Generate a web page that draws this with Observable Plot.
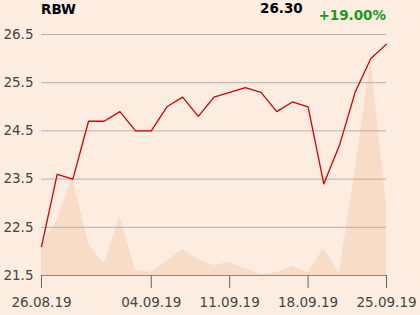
<!DOCTYPE html>
<html>
<head>
<meta charset="utf-8">
<script src="https://cdn.jsdelivr.net/npm/d3@7"></script>
<script src="https://cdn.jsdelivr.net/npm/@observablehq/plot@0.6"></script>
<style>
  html, body { margin: 0; padding: 0; background: #fcede0; }
  #wrap { position: relative; width: 420px; height: 315px; font-family: "DejaVu Sans", sans-serif; }
  .t { position: absolute; font-weight: bold; font-size: 13.5px; white-space: nowrap; line-height: 1; }
</style>
</head>
<body>
<div id="wrap">
  <div class="t" id="sym" style="left:41px; top:3px; color:#000;"></div>
  <div class="t" id="last" style="left:260px; top:2px; color:#000;"></div>
  <div class="t" id="chg" style="right:34px; top:9px; color:#1a9a1a;"></div>
</div>
<script>
const symbol = "RBW";
const lastPrice = "26.30";
const change = "+19.00%";

const dates = ["26.08.19","27.08.19","28.08.19","29.08.19","30.08.19","02.09.19","03.09.19","04.09.19","05.09.19","06.09.19","09.09.19","10.09.19","11.09.19","12.09.19","13.09.19","16.09.19","17.09.19","18.09.19","19.09.19","20.09.19","23.09.19","24.09.19","25.09.19"];
const prices = [22.1,23.6,23.5,24.7,24.7,24.9,24.5,24.5,25.0,25.2,24.8,25.2,25.3,25.4,25.3,24.9,25.1,25.0,23.4,24.2,25.3,26.0,26.3];
const volumes = [30,55,98,31,12,59,5,3,14,26,16,10,13,7,1,3,9,3,27,3,105,215,71];
const xTickLabels = ["26.08.19","04.09.19","11.09.19","18.09.19","25.09.19"];
const yTicks = [21.5,22.5,23.5,24.5,25.5,26.5];

const yMin = 21.5, yMax = 26.5;
const volFull = 241; // volume that would fill the whole price range

const rows = dates.map((d, i) => ({i, date: d, price: prices[i], vol: volumes[i]}));
const xTicks = xTickLabels.map(l => dates.indexOf(l));

document.getElementById("sym").textContent = symbol;
document.getElementById("last").textContent = lastPrice;
document.getElementById("chg").textContent = change;

const chart = Plot.plot({
  width: 420,
  height: 315,
  marginLeft: 41,
  marginRight: 34,
  marginTop: 34,
  marginBottom: 40,
  style: {background: "transparent", fontFamily: "DejaVu Sans, sans-serif", fontSize: "13.5px", color: "#444"},
  x: {type: "linear", domain: [0, dates.length - 1], label: null},
  y: {domain: [yMin, yMax], label: null},
  marks: [
    Plot.areaY(rows, {x: "i", y1: yMin, y2: d => yMin + d.vol / volFull * (yMax - yMin), fill: "#f8dcc6", curve: "linear"}),
    Plot.ruleY(yTicks.slice(1), {stroke: "#b5b0aa", strokeWidth: 1}),
    Plot.ruleY([yMin], {stroke: "#8a8a8a", strokeWidth: 1}),
    Plot.axisX({ticks: xTicks, tickFormat: i => dates[i], tickSize: 13, tickPadding: 9, stroke: "#666", color: "#444", fontSize: 13.5, label: null}),
    Plot.axisY({ticks: yTicks, tickFormat: d3.format(".1f"), tickSize: 0, tickPadding: 8, color: "#444", fontSize: 13.5, label: null}),
    Plot.lineY(rows, {x: "i", y: "price", stroke: "#d40000", strokeWidth: 1.3})
  ]
});
document.getElementById("wrap").prepend(chart);
chart.style.position = "absolute";
chart.style.left = "0";
chart.style.top = "0";
</script>
</body>
</html>
